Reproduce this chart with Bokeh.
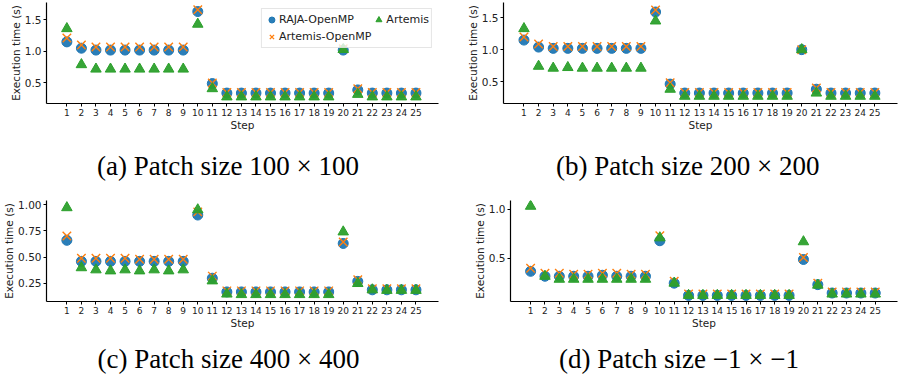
from bokeh.plotting import figure
from bokeh.layouts import column, row
from bokeh.models import (Range1d, FixedTicker, PrintfTickFormatter, Title, Legend,
                          LegendItem, LinearAxis)
from bokeh.embed import file_html
from bokeh.resources import INLINE

steps = list(range(1, 26))
series_names = ["RAJA-OpenMP", "Artemis-OpenMP", "Artemis"]

# (a) Patch size 100 x 100
raja_a = [1.15, 1.05, 1.02, 1.02, 1.02, 1.02, 1.02, 1.02, 1.02, 1.63, 0.49, 0.34, 0.34,
          0.34, 0.34, 0.34, 0.34, 0.34, 0.34, 1.02, 0.39, 0.34, 0.34, 0.34, 0.34]
artomp_a = [1.21, 1.10, 1.07, 1.07, 1.07, 1.07, 1.07, 1.07, 1.07, 1.66, 0.50, 0.35, 0.35,
            0.35, 0.35, 0.35, 0.35, 0.35, 0.35, 1.04, 0.41, 0.35, 0.35, 0.35, 0.35]
artemis_a = [1.36, 0.79, 0.72, 0.72, 0.72, 0.72, 0.72, 0.72, 0.72, 1.43, 0.41, 0.28, 0.28,
             0.28, 0.28, 0.28, 0.28, 0.28, 0.28, 1.03, 0.32, 0.28, 0.28, 0.28, 0.28]

# (b) Patch size 200 x 200
raja_b = [1.15, 1.04, 1.02, 1.02, 1.02, 1.02, 1.02, 1.02, 1.02, 1.59, 0.46, 0.32, 0.32,
          0.32, 0.32, 0.32, 0.32, 0.32, 0.32, 1.00, 0.38, 0.32, 0.32, 0.32, 0.32]
artomp_b = [1.20, 1.09, 1.05, 1.05, 1.05, 1.05, 1.05, 1.05, 1.05, 1.62, 0.48, 0.33, 0.33,
            0.33, 0.33, 0.33, 0.33, 0.33, 0.33, 1.00, 0.40, 0.33, 0.33, 0.33, 0.33]
artemis_b = [1.33, 0.74, 0.71, 0.72, 0.71, 0.71, 0.71, 0.71, 0.71, 1.45, 0.38, 0.27, 0.27,
             0.27, 0.27, 0.27, 0.27, 0.27, 0.27, 1.00, 0.32, 0.27, 0.27, 0.27, 0.27]

# (c) Patch size 400 x 400
raja_c = [0.66, 0.46, 0.46, 0.46, 0.46, 0.46, 0.46, 0.46, 0.46, 0.90, 0.30, 0.17, 0.17,
          0.17, 0.17, 0.17, 0.17, 0.17, 0.17, 0.63, 0.27, 0.19, 0.19, 0.19, 0.19]
artomp_c = [0.70, 0.49, 0.49, 0.49, 0.49, 0.48, 0.48, 0.48, 0.48, 0.93, 0.32, 0.18, 0.18,
            0.18, 0.18, 0.18, 0.18, 0.18, 0.18, 0.645, 0.285, 0.20, 0.20, 0.20, 0.20]
artemis_c = [0.97, 0.40, 0.38, 0.37, 0.38, 0.37, 0.38, 0.37, 0.38, 0.95, 0.275, 0.15, 0.145,
             0.145, 0.145, 0.145, 0.145, 0.145, 0.145, 0.74, 0.25, 0.19, 0.185, 0.185, 0.185]

# (d) Patch size -1 x -1
raja_d = [0.37, 0.32, 0.32, 0.32, 0.32, 0.33, 0.32, 0.32, 0.32, 0.68, 0.25, 0.126, 0.126,
          0.126, 0.126, 0.126, 0.126, 0.126, 0.126, 0.49, 0.235, 0.15, 0.15, 0.15, 0.15]
artomp_d = [0.40, 0.35, 0.35, 0.34, 0.34, 0.35, 0.35, 0.34, 0.34, 0.73, 0.27, 0.14, 0.14,
            0.14, 0.14, 0.14, 0.14, 0.14, 0.14, 0.51, 0.25, 0.16, 0.16, 0.16, 0.16]
artemis_d = [1.03, 0.32, 0.29, 0.29, 0.29, 0.29, 0.29, 0.29, 0.29, 0.71, 0.25, 0.126, 0.126,
             0.126, 0.126, 0.126, 0.126, 0.126, 0.126, 0.67, 0.23, 0.14, 0.14, 0.14, 0.14]

captions = ["(a) Patch size 100 \u00d7 100", "(b) Patch size 200 \u00d7 200",
            "(c) Patch size 400 \u00d7 400", "(d) Patch size \u22121 \u00d7 \u22121"]
y_ticks_1 = [0.5, 1.0, 1.5]
y_ticks_c = [0.25, 0.5, 0.75, 1.0]

BLUE, ORANGE, GREEN = "#1f77b4", "#ff7f0e", "#2ca02c"
TXT = "#222222"
X_LO, X_HI = -0.4, 26.55


def panel(raja, artomp, artemis, yrng, yticks, yfmt, caption, width, height,
          bl, br, bt, bb, cap_offset, cap_standoff, legend=False):
    p = figure(width=width, height=height, x_range=Range1d(X_LO, X_HI),
               y_range=Range1d(*yrng), output_backend="svg", toolbar_location=None,
               min_border_left=bl, min_border_right=br, min_border_top=bt,
               min_border_bottom=bb)
    p.outline_line_color = None
    p.grid.visible = False
    p.background_fill_color = "white"
    p.border_fill_color = "white"

    r1 = p.scatter(steps, raja, marker="circle", size=10, fill_color=BLUE,
                   line_color=BLUE, fill_alpha=0.95)
    r2 = p.scatter(steps, artomp, marker="x", size=12, line_color=ORANGE, line_width=1.4)
    r3 = p.scatter(steps, artemis, marker="triangle", size=10.5, fill_color=GREEN,
                   line_color=GREEN, fill_alpha=0.95)

    xa = p.xaxis[0]
    xa.ticker = FixedTicker(ticks=steps)
    xa.axis_label = "Step"
    ya = p.yaxis[0]
    ya.ticker = FixedTicker(ticks=yticks)
    ya.formatter = PrintfTickFormatter(format=yfmt)
    ya.axis_label = "Execution time (s)"
    for ax in (xa, ya):
        ax.axis_line_color = "black"
        ax.axis_line_width = 1.2
        ax.major_tick_line_color = "black"
        ax.major_tick_out = 3
        ax.major_tick_in = 0
        ax.minor_tick_line_color = None
        ax.major_label_text_font = "DejaVu Sans"
        ax.major_label_text_color = TXT
        ax.axis_label_text_font = "DejaVu Sans"
        ax.axis_label_text_font_style = "normal"
        ax.axis_label_text_font_size = "10.5px"
        ax.axis_label_text_color = TXT
        ax.major_label_standoff = 2
        ax.axis_label_standoff = 0
    xa.major_label_text_font_size = "9px"
    ya.major_label_text_font_size = "10.5px"

    if legend:
        lg = Legend(items=[LegendItem(label=series_names[0], renderers=[r1]),
                           LegendItem(label=series_names[2], renderers=[r3]),
                           LegendItem(label=series_names[1], renderers=[r2])],
                    location="top_right", ncols=2, orientation="horizontal",
                    label_text_font="DejaVu Sans", label_text_font_size="11px",
                    label_text_color=TXT, glyph_width=15, glyph_height=17,
                    label_height=16, label_standoff=0, spacing=0, padding=2,
                    margin=6, border_line_color="#cccccc", border_line_width=1,
                    background_fill_alpha=0.8)
        p.add_layout(lg)

    spacer = LinearAxis(ticker=FixedTicker(ticks=[]), axis_line_color=None,
                        major_tick_line_color="white", minor_tick_line_color=None,
                        major_tick_out=0, major_tick_in=0, minor_tick_out=0,
                        major_label_standoff=0, axis_label_standoff=0)
    p.add_layout(spacer, "below")
    p.add_layout(Title(text=caption, align="left", offset=cap_offset,
                       vertical_align="bottom", standoff=cap_standoff,
                       text_line_height=1.0,
                       text_font="Liberation Serif", text_font_size="27px",
                       text_font_style="normal", text_color="black"), "below")
    return p


pa = panel(raja_a, artomp_a, artemis_a, (0.175, 1.773), y_ticks_1, "%.1f", captions[0],
           450, 198, 46, 12, 2, 95, 50.5, 30, legend=True)
pb = panel(raja_b, artomp_b, artemis_b, (0.156, 1.739), y_ticks_1, "%.1f", captions[1],
           449, 198, 53, 2, 2, 95, 52.5, 30)
pc = panel(raja_c, artomp_c, artemis_c, (0.079, 1.038), y_ticks_c, "%.2f", captions[2],
           450, 186, 45, 12, 2, 83, 51, 20)
pd = panel(raja_d, artomp_d, artemis_d, (0.064, 1.088), y_ticks_1, "%.1f", captions[3],
           449, 186, 60, 2, 2, 83, 48.5, 20)

layout = column(row(pa, pb), row(pc, pd))
open("out.html", "w").write(file_html(layout, INLINE))
